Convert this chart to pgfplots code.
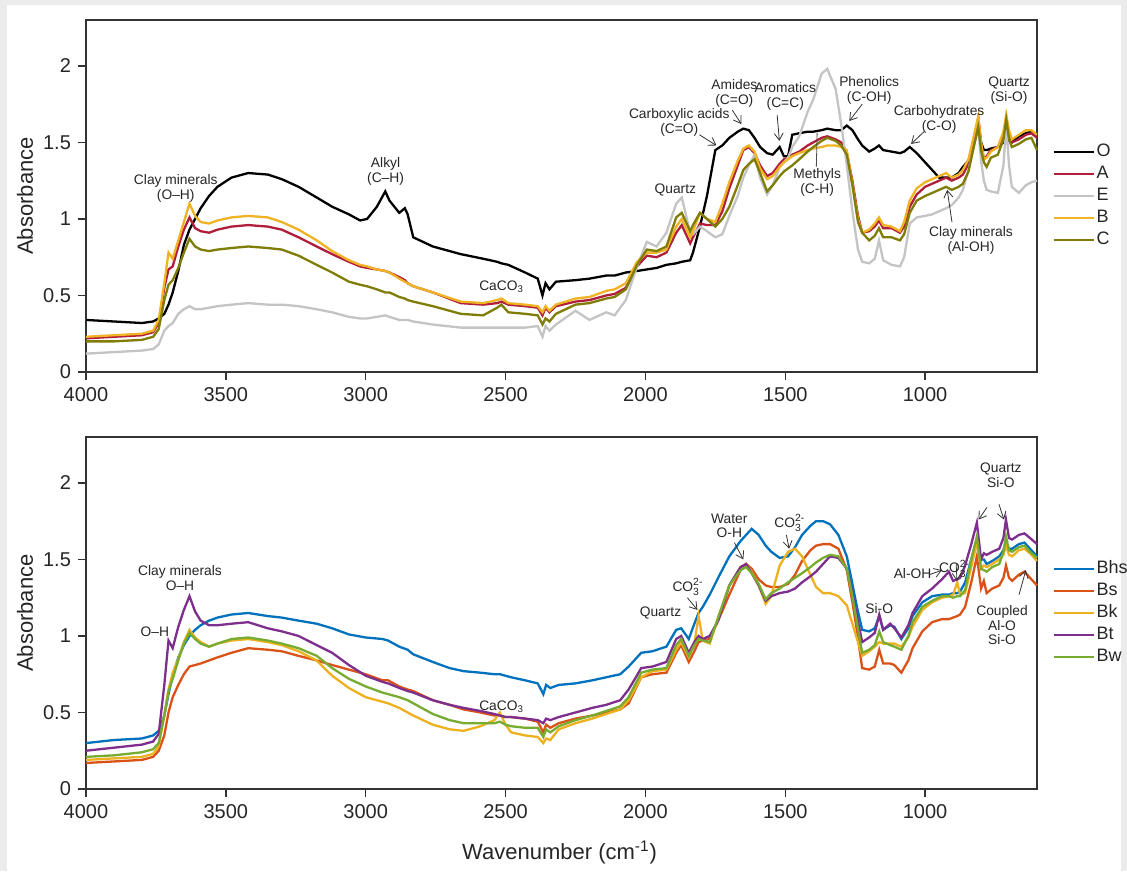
\documentclass[border=0pt]{standalone}
\usepackage{pgfplots}
\pgfplotsset{compat=1.18}
\usepackage{pgfplotstable}
\usepackage{fontspec}
\setmainfont{Liberation Sans}
\usetikzlibrary{arrows.meta}

\definecolor{cO}{HTML}{000000}
\definecolor{cA}{HTML}{B01E3C}
\definecolor{cE}{HTML}{C4C4C4}
\definecolor{cB}{HTML}{F0B323}
\definecolor{cC}{HTML}{7F7D05}
\definecolor{cBhs}{HTML}{0072BD}
\definecolor{cBs}{HTML}{D95319}
\definecolor{cBk}{HTML}{EDB120}
\definecolor{cBt}{HTML}{7E2F8E}
\definecolor{cBw}{HTML}{77AC30}
\definecolor{bggray}{HTML}{EBEBEB}

\pgfplotstableread{
w O A E B C
4000 0.34 0.22 0.12 0.23 0.20
3900 0.33 0.23 0.13 0.24 0.20
3800 0.32 0.24 0.14 0.25 0.21
3760 0.33 0.26 0.15 0.27 0.23
3740 0.35 0.32 0.18 0.34 0.28
3720 0.38 0.55 0.27 0.58 0.47
3705 0.44 0.67 0.30 0.78 0.57
3690 0.52 0.69 0.32 0.74 0.60
3670 0.66 0.82 0.38 0.86 0.68
3650 0.83 0.93 0.41 0.98 0.78
3630 0.93 1.01 0.43 1.10 0.87
3610 1.00 0.94 0.41 1.02 0.82
3590 1.07 0.92 0.41 0.98 0.80
3560 1.15 0.91 0.42 0.97 0.79
3530 1.21 0.93 0.43 0.99 0.80
3480 1.27 0.95 0.44 1.01 0.81
3420 1.30 0.96 0.45 1.02 0.82
3350 1.29 0.95 0.44 1.01 0.81
3300 1.26 0.93 0.44 0.98 0.80
3240 1.21 0.88 0.43 0.93 0.76
3175 1.14 0.82 0.41 0.86 0.70
3120 1.08 0.77 0.39 0.79 0.65
3060 1.03 0.72 0.36 0.73 0.59
3020 0.99 0.69 0.35 0.70 0.57
2995 1.00 0.68 0.35 0.69 0.56
2960 1.08 0.67 0.36 0.67 0.54
2930 1.18 0.66 0.37 0.66 0.52
2915 1.12 0.65 0.36 0.65 0.52
2880 1.04 0.62 0.34 0.61 0.49
2860 1.07 0.60 0.34 0.59 0.48
2850 1.03 0.58 0.34 0.58 0.47
2830 0.88 0.56 0.33 0.56 0.46
2760 0.82 0.52 0.31 0.52 0.43
2660 0.77 0.45 0.29 0.46 0.38
2580 0.74 0.44 0.29 0.45 0.37
2530 0.72 0.45 0.29 0.47 0.42
2515 0.71 0.46 0.29 0.48 0.44
2490 0.70 0.44 0.29 0.45 0.39
2430 0.65 0.43 0.29 0.44 0.38
2385 0.61 0.42 0.30 0.43 0.37
2368 0.50 0.37 0.23 0.39 0.31
2357 0.58 0.42 0.30 0.43 0.35
2343 0.54 0.39 0.27 0.40 0.33
2320 0.59 0.43 0.31 0.44 0.38
2250 0.60 0.46 0.40 0.48 0.44
2200 0.61 0.47 0.34 0.49 0.45
2140 0.63 0.50 0.39 0.53 0.48
2110 0.63 0.51 0.37 0.54 0.49
2070 0.65 0.55 0.47 0.58 0.54
2030 0.66 0.69 0.69 0.72 0.70
1995 0.67 0.76 0.85 0.78 0.80
1960 0.68 0.75 0.82 0.78 0.79
1925 0.70 0.78 0.91 0.80 0.82
1890 0.71 0.91 1.10 0.95 1.01
1870 0.72 0.96 1.14 1.00 1.04
1840 0.73 0.84 0.91 0.88 0.92
1830 0.78 0.88 0.90 0.92 0.96
1805 0.95 0.97 0.95 1.04 1.04
1780 1.15 0.96 0.92 1.00 1.00
1750 1.45 0.96 0.88 0.98 0.95
1725 1.48 1.05 0.90 1.10 1.00
1700 1.53 1.20 1.02 1.24 1.08
1670 1.57 1.35 1.15 1.38 1.22
1650 1.59 1.45 1.27 1.46 1.32
1630 1.58 1.47 1.35 1.48 1.36
1610 1.53 1.43 1.42 1.44 1.39
1590 1.47 1.35 1.27 1.33 1.30
1565 1.43 1.28 1.16 1.26 1.18
1545 1.42 1.30 1.22 1.28 1.22
1520 1.47 1.36 1.34 1.34 1.28
1505 1.41 1.39 1.37 1.37 1.31
1490 1.41 1.40 1.40 1.39 1.33
1475 1.55 1.42 1.47 1.41 1.35
1450 1.56 1.44 1.54 1.43 1.39
1420 1.57 1.48 1.70 1.45 1.44
1400 1.57 1.50 1.78 1.46 1.47
1370 1.58 1.53 1.95 1.47 1.51
1350 1.59 1.54 1.98 1.48 1.53
1320 1.58 1.52 1.85 1.48 1.51
1300 1.58 1.50 1.62 1.47 1.48
1280 1.61 1.43 1.35 1.45 1.42
1260 1.58 1.25 1.05 1.23 1.22
1240 1.52 1.02 0.80 1.00 0.98
1225 1.48 0.91 0.72 0.91 0.91
1200 1.44 0.92 0.71 0.93 0.86
1180 1.46 0.95 0.74 0.97 0.89
1165 1.48 0.99 0.86 1.01 0.94
1150 1.45 0.94 0.73 0.96 0.88
1120 1.44 0.94 0.70 0.95 0.88
1090 1.43 0.91 0.69 0.92 0.86
1075 1.44 0.95 0.75 0.98 0.90
1055 1.47 1.08 0.97 1.12 1.04
1030 1.43 1.16 1.01 1.20 1.12
1000 1.37 1.21 1.02 1.24 1.15
975 1.32 1.23 1.03 1.26 1.17
950 1.27 1.25 1.05 1.28 1.19
925 1.27 1.27 1.07 1.30 1.21
905 1.27 1.25 1.09 1.27 1.19
880 1.30 1.27 1.14 1.29 1.21
865 1.34 1.29 1.19 1.32 1.23
845 1.38 1.36 1.32 1.39 1.31
825 1.50 1.52 1.48 1.55 1.48
810 1.62 1.66 1.60 1.67 1.60
800 1.50 1.50 1.38 1.50 1.45
790 1.45 1.39 1.25 1.39 1.37
780 1.45 1.41 1.19 1.40 1.34
765 1.46 1.45 1.18 1.44 1.40
740 1.47 1.47 1.17 1.47 1.42
720 1.50 1.55 1.35 1.57 1.52
710 1.52 1.66 1.62 1.68 1.65
700 1.51 1.56 1.35 1.58 1.52
690 1.50 1.50 1.21 1.52 1.47
665 1.54 1.52 1.17 1.55 1.49
640 1.56 1.55 1.22 1.58 1.52
620 1.57 1.56 1.24 1.58 1.53
600 1.55 1.53 1.25 1.55 1.45
}\topdata

\pgfplotstableread{
w Bhs Bs Bk Bt Bw
4000 0.30 0.17 0.19 0.25 0.21
3900 0.32 0.18 0.20 0.27 0.22
3800 0.33 0.19 0.21 0.29 0.24
3760 0.35 0.21 0.23 0.31 0.26
3740 0.38 0.25 0.28 0.36 0.30
3720 0.48 0.35 0.48 0.68 0.48
3705 0.62 0.50 0.65 0.97 0.64
3690 0.74 0.60 0.76 0.92 0.72
3670 0.86 0.68 0.85 1.06 0.84
3650 0.94 0.75 0.96 1.17 0.95
3630 1.00 0.80 1.04 1.26 1.02
3610 1.04 0.81 0.99 1.16 0.98
3590 1.07 0.82 0.96 1.10 0.95
3560 1.10 0.84 0.93 1.07 0.93
3530 1.12 0.86 0.95 1.07 0.95
3480 1.14 0.89 0.97 1.08 0.98
3420 1.15 0.92 0.98 1.09 0.99
3350 1.13 0.91 0.96 1.05 0.97
3300 1.12 0.90 0.94 1.03 0.95
3240 1.10 0.87 0.90 1.00 0.92
3175 1.08 0.84 0.84 0.94 0.87
3120 1.05 0.81 0.74 0.89 0.79
3060 1.01 0.78 0.66 0.81 0.72
3000 0.99 0.75 0.60 0.74 0.67
2940 0.98 0.71 0.57 0.70 0.63
2920 0.97 0.71 0.56 0.69 0.62
2880 0.93 0.67 0.53 0.66 0.60
2850 0.91 0.65 0.50 0.64 0.58
2830 0.88 0.64 0.48 0.63 0.56
2760 0.83 0.58 0.42 0.58 0.49
2700 0.79 0.55 0.39 0.55 0.45
2650 0.77 0.52 0.38 0.53 0.43
2590 0.76 0.50 0.41 0.51 0.43
2540 0.75 0.48 0.45 0.49 0.43
2520 0.75 0.48 0.50 0.48 0.44
2500 0.74 0.47 0.42 0.47 0.42
2480 0.73 0.47 0.37 0.47 0.41
2430 0.71 0.46 0.35 0.46 0.40
2385 0.69 0.44 0.34 0.45 0.40
2365 0.62 0.37 0.30 0.43 0.34
2355 0.68 0.42 0.33 0.46 0.39
2340 0.66 0.40 0.32 0.45 0.37
2310 0.68 0.43 0.39 0.47 0.41
2250 0.69 0.46 0.43 0.50 0.45
2190 0.71 0.48 0.46 0.53 0.48
2140 0.73 0.50 0.49 0.55 0.51
2090 0.75 0.52 0.52 0.58 0.54
2060 0.80 0.56 0.58 0.65 0.60
2015 0.89 0.73 0.73 0.79 0.76
1975 0.90 0.75 0.77 0.80 0.78
1925 0.93 0.76 0.78 0.83 0.79
1890 1.04 0.89 0.91 0.98 0.94
1872 1.05 0.94 0.96 1.00 0.98
1845 0.98 0.83 0.86 0.89 0.87
1825 1.08 0.90 0.95 0.96 0.94
1810 1.15 0.96 1.13 1.00 0.98
1795 1.19 0.97 0.97 0.98 0.97
1770 1.27 0.98 0.95 1.00 0.96
1740 1.38 1.10 1.12 1.10 1.12
1700 1.52 1.27 1.33 1.33 1.33
1660 1.62 1.43 1.45 1.45 1.43
1640 1.66 1.47 1.47 1.47 1.45
1620 1.70 1.44 1.42 1.41 1.41
1595 1.66 1.37 1.33 1.33 1.34
1570 1.59 1.33 1.21 1.23 1.24
1550 1.55 1.32 1.26 1.26 1.28
1520 1.51 1.32 1.46 1.28 1.31
1490 1.52 1.34 1.55 1.29 1.35
1465 1.58 1.40 1.57 1.31 1.38
1440 1.66 1.49 1.52 1.35 1.41
1410 1.72 1.56 1.40 1.39 1.45
1390 1.75 1.59 1.32 1.42 1.48
1365 1.75 1.60 1.28 1.47 1.51
1340 1.73 1.60 1.28 1.52 1.53
1310 1.66 1.57 1.26 1.51 1.52
1280 1.52 1.43 1.20 1.44 1.44
1260 1.34 1.22 1.08 1.28 1.26
1245 1.20 1.05 0.99 1.14 1.10
1225 1.04 0.79 0.87 0.96 0.89
1200 1.03 0.78 0.90 0.99 0.91
1180 1.05 0.80 0.93 1.02 0.94
1164 1.13 0.91 0.96 1.14 1.03
1150 1.04 0.82 0.95 1.04 0.96
1125 1.07 0.82 0.95 1.08 0.94
1110 1.06 0.81 0.95 1.05 0.93
1085 0.98 0.76 0.93 0.99 0.91
1060 1.05 0.84 0.99 1.07 1.00
1045 1.13 0.92 1.06 1.15 1.09
1010 1.22 1.03 1.17 1.26 1.19
975 1.26 1.09 1.22 1.31 1.23
940 1.27 1.11 1.25 1.37 1.26
915 1.27 1.11 1.26 1.42 1.26
900 1.28 1.12 1.27 1.36 1.25
885 1.28 1.13 1.35 1.37 1.26
875 1.29 1.14 1.27 1.38 1.26
857 1.35 1.19 1.28 1.46 1.30
835 1.50 1.35 1.45 1.60 1.50
815 1.63 1.52 1.61 1.74 1.65
800 1.50 1.31 1.44 1.50 1.44
790 1.50 1.36 1.46 1.54 1.43
780 1.47 1.28 1.45 1.53 1.42
760 1.49 1.31 1.47 1.55 1.45
735 1.52 1.33 1.50 1.57 1.47
720 1.56 1.38 1.53 1.64 1.55
711 1.61 1.46 1.59 1.76 1.65
700 1.57 1.38 1.53 1.64 1.56
689 1.57 1.36 1.52 1.63 1.55
665 1.60 1.40 1.56 1.66 1.58
645 1.61 1.42 1.57 1.67 1.59
625 1.57 1.38 1.54 1.64 1.55
600 1.52 1.33 1.49 1.60 1.51
}\botdata

\newcommand{\smallsc}{\fontsize{5.2}{5.2}\selectfont}
\newcommand{\cothree}{CO\rlap{\raisebox{0.8ex}{\smallsc 2-}}\raisebox{-0.6ex}{\smallsc 3}\hspace{1.6pt}}

\tikzset{
  ann/.style={font=\fontsize{6.9}{7.3}\selectfont, align=center, inner sep=0pt, text=black!85},
  arr/.style={draw=black!80, line width=0.4pt, -{Straight Barb[length=3.5pt,width=4.5pt]}},
}

\pgfplotsset{
  spec/.style={
    scale only axis, width=475.5pt, height=176pt,
    x dir=reverse, xmin=600, xmax=4000, ymin=0, ymax=2.3,
    xtick={1000,1500,2000,2500,3000,3500,4000},
    ytick={0,0.5,1,1.5,2},
    xtick pos=lower, ytick pos=left,
    tick align=outside, major tick length=4pt,
    axis line style={black!80, line width=0.7pt},
    tick style={black!80, line width=0.7pt},
    /pgf/number format/assume math mode=true,
    /pgf/number format/1000 sep={},
    ticklabel style={font=\fontsize{10}{12}\selectfont, text=black!85},
    ylabel={Absorbance},
    ylabel style={at={(axis description cs:-0.064,0.5)}, anchor=center, font=\fontsize{11}{13}\selectfont, text=black!85},
    clip=false,
    every axis plot/.append style={no markers, line width=1.15pt},
    legend cell align=left,
    legend style={at={(1.016,0.655)}, anchor=north west, draw=none, fill=none,
      inner sep=0pt, row sep=1pt, font=\fontsize{9}{11}\selectfont,
      nodes={inner sep=1pt, text height=6.5pt, text depth=1.5pt, text=black!85}},
    legend image code/.code={\draw[##1, line width=1pt] (0pt,0pt) -- (20pt,0pt);},
  }
}

\begin{document}
\begin{tikzpicture}
\useasboundingbox (0,0) rectangle (563.5pt,435.5pt);
\fill[bggray] (0,0) rectangle (563.5pt,435.5pt);
\fill[white] (3.5pt,0) rectangle (560.5pt,433pt);

\begin{axis}[spec, at={(43pt,249.5pt)}, anchor=south west]
\addplot[cO] table[x=w,y=O] \topdata;
\addplot[cA] table[x=w,y=A] \topdata;
\addplot[cE] table[x=w,y=E] \topdata;
\addplot[cB] table[x=w,y=B] \topdata;
\addplot[cC] table[x=w,y=C] \topdata;
\legend{O,A,E,B,C}
\node[ann] at (axis cs:3679,1.20) {Clay minerals\\(O--H)};
\node[ann] at (axis cs:2929,1.31) {Alkyl\\(C--H)};
\node[ann] at (axis cs:2514,0.56) {CaCO\textsubscript{3}};
\node[ann] at (axis cs:1893,1.19) {Quartz};
\node[ann] at (axis cs:1879,1.63) {Carboxylic acids\\(C=O)};
\draw[arr] (axis cs:1807,1.55) -- (axis cs:1746,1.48);
\node[ann] at (axis cs:1682,1.82) {Amides\\(C=O)};
\draw[arr] (axis cs:1689,1.71) -- (axis cs:1657,1.62);
\node[ann] at (axis cs:1500,1.80) {Aromatics\\(C=C)};
\draw[arr] (axis cs:1529,1.68) -- (axis cs:1521,1.51);
\node[ann] at (axis cs:1200,1.84) {Phenolics\\(C-OH)};
\draw[arr] (axis cs:1225,1.75) -- (axis cs:1271,1.64);
\node[ann] at (axis cs:1386,1.24) {Methyls\\(C-H)};
\draw[black!70, line width=0.4pt] (axis cs:1389,1.34) -- (axis cs:1386,1.56);
\node[ann] at (axis cs:950,1.65) {Carbohydrates\\(C-O)};
\draw[arr] (axis cs:1004,1.57) -- (axis cs:1050,1.49);
\node[ann] at (axis cs:700,1.84) {Quartz\\(Si-O)};
\node[ann] at (axis cs:836,0.86) {Clay minerals\\(Al-OH)};
\draw[arr] (axis cs:904,0.98) -- (axis cs:921,1.19);
\end{axis}

\begin{axis}[spec, at={(43pt,41pt)}, anchor=south west,
  xlabel={Wavenumber (cm\textsuperscript{-1})},
  xlabel style={at={(axis description cs:0.498,-0.179)}, anchor=center, font=\fontsize{11}{13}\selectfont, text=black!85}]
\addplot[cBhs] table[x=w,y=Bhs] \botdata;
\addplot[cBs] table[x=w,y=Bs] \botdata;
\addplot[cBk] table[x=w,y=Bk] \botdata;
\addplot[cBt] table[x=w,y=Bt] \botdata;
\addplot[cBw] table[x=w,y=Bw] \botdata;
\legend{Bhs,Bs,Bk,Bt,Bw}
\node[ann] at (axis cs:3664,1.38) {Clay minerals\\O--H};
\node[ann] at (axis cs:3754,1.03) {O--H};
\node[ann] at (axis cs:2514,0.54) {CaCO\textsubscript{3}};
\node[ann] at (axis cs:1946,1.15) {Quartz};
\node[ann] at (axis cs:1850,1.32) {\cothree};
\draw[arr] (axis cs:1850,1.25) -- (axis cs:1814,1.17);
\node[ann] at (axis cs:1700,1.72) {Water\\O-H};
\draw[arr] (axis cs:1682,1.61) -- (axis cs:1650,1.50);
\node[ann] at (axis cs:1486,1.74) {\cothree};
\draw[arr] (axis cs:1496,1.66) -- (axis cs:1486,1.57);
\node[ann] at (axis cs:1164,1.18) {Si-O};
\node[ann] at (axis cs:1045,1.41) {Al-OH};
\draw[arr] (axis cs:985,1.40) -- (axis cs:940,1.43);
\node[ann] at (axis cs:897,1.44) {\cothree};
\draw[arr] (axis cs:889,1.47) -- (axis cs:886,1.36);
\node[ann] at (axis cs:729,2.05) {Quartz\\Si-O};
\draw[arr] (axis cs:779,1.84) -- (axis cs:809,1.76);
\draw[arr] (axis cs:736,1.86) -- (axis cs:718,1.76);
\node[ann] at (axis cs:725,1.07) {Coupled\\Al-O\\Si-O};
\draw[arr] (axis cs:664,1.27) -- (axis cs:640,1.43);
\end{axis}
\end{tikzpicture}
\end{document}
